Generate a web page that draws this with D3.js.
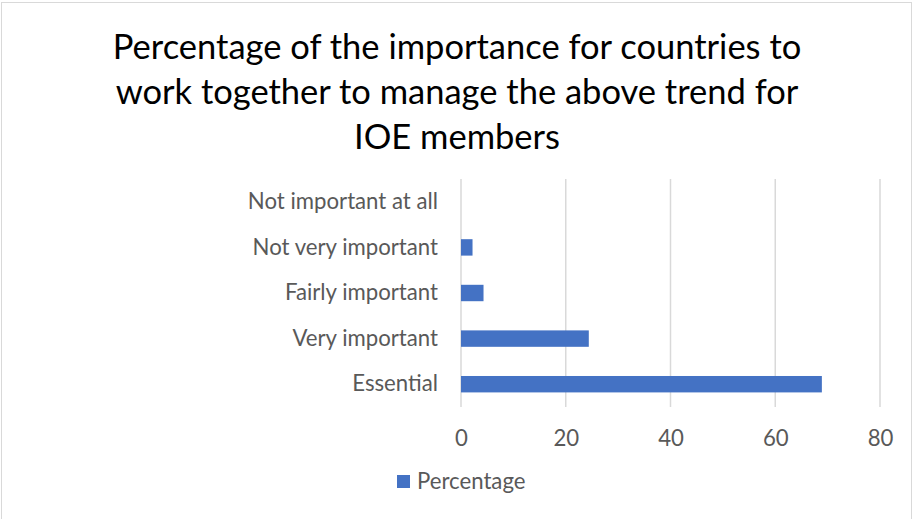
<!DOCTYPE html>
<html>
<head>
<meta charset="utf-8">
<script src="https://cdn.jsdelivr.net/npm/d3@7"></script>
<style>
  html, body { margin: 0; padding: 0; background: #fff; }
  svg { display: block; }
  text { font-family: Lato, "Open Sans", "Noto Sans", sans-serif; }
</style>
</head>
<body>
<svg id="chart" width="913" height="519"></svg>
<script>
// Survey answers, bottom-up order as drawn (Essential at the bottom)
const categories = ["Essential", "Very important", "Fairly important", "Not very important", "Not important at all"];
const percentages = [68.9, 24.4, 4.3, 2.2, 0];
const xTicks = [0, 20, 40, 60, 80];
const seriesName = "Percentage";
const titleLines = [
  "Percentage of the importance for countries to",
  "work together to manage the above trend for",
  "IOE members"
];

const W = 913, H = 519;
const svg = d3.select("#chart");
const barColor = "#4472c4";
const textGrey = "#595959";
const labelSize = 22.2;

// chart area border
svg.append("rect")
  .attr("x", 1.5).attr("y", 2.5)
  .attr("width", W - 3).attr("height", H)
  .attr("fill", "#fff").attr("stroke", "#d9d9d9").attr("stroke-width", 1);

// title
svg.append("g").selectAll("text")
  .data(titleLines)
  .join("text")
  .attr("x", 457)
  .attr("y", (d, i) => 59 + i * 45)
  .attr("text-anchor", "middle")
  .attr("font-size", 34.5)
  .attr("fill", "#000")
  .text(d => d);

const plot = { left: 461, right: 880, top: 179, bottom: 407 };

const x = d3.scaleLinear().domain([0, 80]).range([plot.left, plot.right]);
const y = d3.scaleBand()
  .domain(categories.slice().reverse())
  .range([plot.top, plot.bottom])
  .paddingInner(0.64).paddingOuter(0.32);

// vertical gridlines
svg.append("g").selectAll("line")
  .data(xTicks)
  .join("line")
  .attr("x1", d => x(d)).attr("x2", d => x(d))
  .attr("y1", plot.top).attr("y2", plot.bottom)
  .attr("stroke", "#d9d9d9").attr("stroke-width", 1.5);

// bars
svg.append("g").selectAll("rect")
  .data(categories.map((c, i) => ({ c, v: percentages[i] })))
  .join("rect")
  .attr("x", x(0))
  .attr("y", d => y(d.c))
  .attr("width", d => x(d.v) - x(0))
  .attr("height", y.bandwidth())
  .attr("fill", barColor);

// category axis
const yAxis = svg.append("g")
  .attr("transform", `translate(${plot.left - 23},0)`)
  .call(d3.axisLeft(y).tickSize(0).tickPadding(0));
yAxis.select(".domain").remove();
yAxis.selectAll("text")
  .attr("font-size", labelSize)
  .attr("fill", textGrey)
  .attr("font-family", "Lato, \"Open Sans\", sans-serif");

// value axis
const xAxis = svg.append("g")
  .attr("transform", `translate(0,${plot.bottom})`)
  .call(d3.axisBottom(x).tickValues(xTicks).tickSize(0).tickPadding(23));
xAxis.select(".domain").remove();
xAxis.selectAll("text")
  .attr("font-size", labelSize)
  .attr("fill", textGrey)
  .attr("font-family", "Lato, \"Open Sans\", sans-serif");

// legend
const legend = svg.append("g").attr("transform", "translate(397,475)");
legend.append("rect").attr("width", 13).attr("height", 13).attr("fill", barColor);
legend.append("text")
  .attr("x", 20).attr("y", 6)
  .attr("dy", "0.35em")
  .attr("font-size", labelSize)
  .attr("fill", textGrey)
  .text(seriesName);
</script>
</body>
</html>
